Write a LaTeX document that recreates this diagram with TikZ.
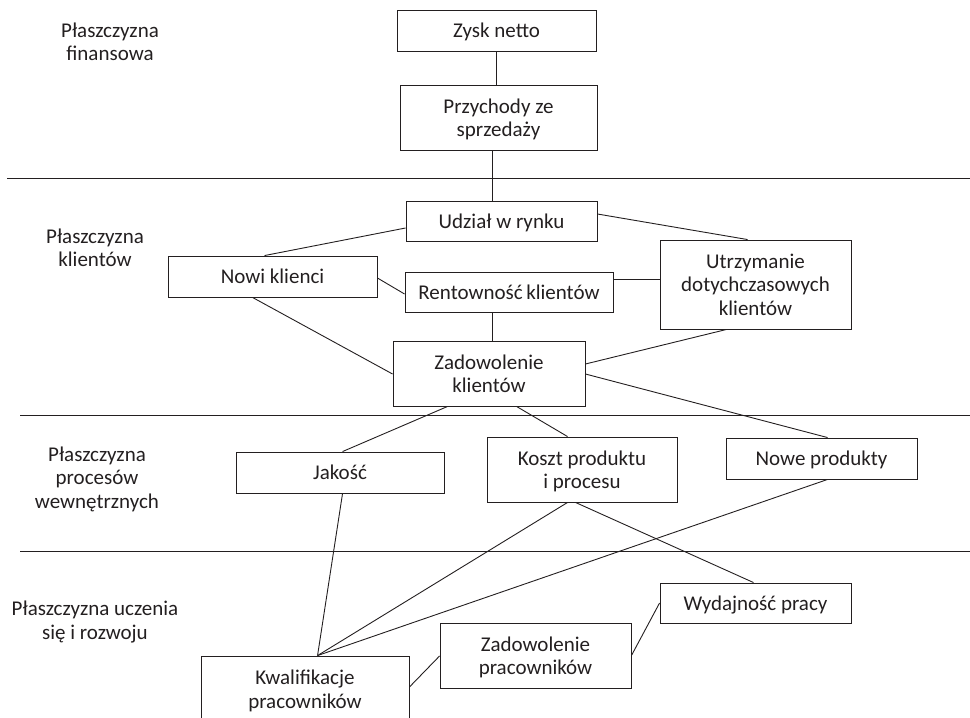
\documentclass[tikz,border=0pt]{standalone}
\usepackage{fontspec}
\setmainfont{Carlito}
\usetikzlibrary{calc}
\definecolor{ink}{HTML}{231F20}
\begin{document}
\begin{tikzpicture}[x=1pt,y=-1pt,
  every node/.style={font=\fontsize{21}{23.5}\selectfont, text=ink},
  box/.style={draw=ink, line width=0.9pt, inner sep=0pt, align=center, text depth=0pt, minimum width=#1},
  box/.default=190pt,
  link/.style={draw=ink, line width=0.9pt},
  sep/.style={draw=ink, line width=1pt},
  plane/.style={align=center}]
\clip (0,0) rectangle (970,718);

% plane separators
\draw[sep] (7,178) -- (970,178);
\draw[sep] (20,415) -- (970,415);
\draw[sep] (20,551) -- (970,551);

% plane labels
\node[plane] (lfin) at (110,42) {Płaszczyzna\\finansowa};
\node[plane] (lkli) at (95,248) {Płaszczyzna\\klientów};
\node[plane] (lpro) at (97,479) {Płaszczyzna\\procesów\\wewnętrznych};
\node[plane] (lucz) at (95,622) {Płaszczyzna uczenia\\się i rozwoju};

% financial plane
\node[box=199pt, minimum height=41pt] (zysk) at (496.5,30.5) {Zysk netto};
\node[box=197pt, minimum height=65pt] (przych) at (498.5,117.5) {Przychody ze\\sprzedaży};

% customer plane
\node[box=191pt, minimum height=40pt] (udzial) at (501.5,221) {Udział w rynku};
\node[box=191pt, minimum height=89pt] (utrzym) at (755.5,284.5) {Utrzymanie\\dotychczasowych\\klientów};
\node[box=208pt, minimum height=40pt] (rent) at (509,292) {Rentowność\,klientów};
\node[box=209pt, minimum height=41pt] (nowi) at (272.5,276.5) {Nowi klienci};
\node[box=192pt, minimum height=65pt] (zadk) at (489,373.5) {Zadowolenie\\klientów};

% internal processes plane
\node[box=208pt, minimum height=41pt] (jakosc) at (340,472.5) {Jakość};
\node[box=190pt, minimum height=65pt] (koszt) at (582,469.5) {Koszt produktu\\i procesu};
\node[box=191pt, minimum height=41pt] (nowe) at (821.5,458.5) {Nowe produkty};

% learning and growth plane
\node[box=191pt, minimum height=40pt] (wyd) at (755.5,603) {Wydajność pracy};
\node[box=191pt, minimum height=65pt] (zadp) at (535.5,655.5) {Zadowolenie\\pracowników};
\node[box=208pt, minimum height=66pt] (kwal) at (305,689) {Kwalifikacje\\pracowników};
\coordinate (kq) at ([xshift=117pt]kwal.north west);

% links
\draw[link] (zysk.south) -- (zysk.south |- przych.north);
\draw[link] ([xshift=93pt]przych.south west) -- ([xshift=87pt]udzial.north west);
\draw[link] ([yshift=-7pt]udzial.west) -- ([xshift=97pt]nowi.north west);
\draw[link] ([yshift=7pt]udzial.east) -- ([xshift=88pt]utrzym.north west);
\draw[link] ([yshift=-1.5pt]nowi.east) -- ([yshift=-2pt]rent.west);
\draw[link] ([yshift=13pt]rent.east) -- ([yshift=13pt]rent.east -| utrzym.west);
\draw[link] ([xshift=88pt]rent.south west) -- ([xshift=88pt]rent.south west |- zadk.north);
\draw[link] ([xshift=85pt]nowi.south west) -- ([yshift=-0.5pt]zadk.west);
\draw[link] ([yshift=9.5pt]zadk.east) -- ([xshift=67pt]utrzym.south west);
\draw[link] ([yshift=-0.5pt]zadk.east) -- ([xshift=102pt]nowe.north west);
\draw[link] ([xshift=55pt]zadk.south west) -- ([xshift=107pt]jakosc.north west);
\draw[link] ([xshift=124pt]zadk.south west) -- ([xshift=81pt]koszt.north west);
\draw[link] ([xshift=107pt]jakosc.south west) -- (kq);
\draw[link] ([xshift=81pt]koszt.south west) -- (kq);
\draw[link] ([xshift=89pt]koszt.south west) -- ([xshift=94pt]wyd.north west);
\draw[link] ([xshift=102pt]nowe.south west) -- (kq);
\draw[link] ([yshift=2pt]kwal.east) -- ([yshift=-0.5pt]zadp.west);
\draw[link] (zadp.east) -- (wyd.west);
\end{tikzpicture}
\end{document}
